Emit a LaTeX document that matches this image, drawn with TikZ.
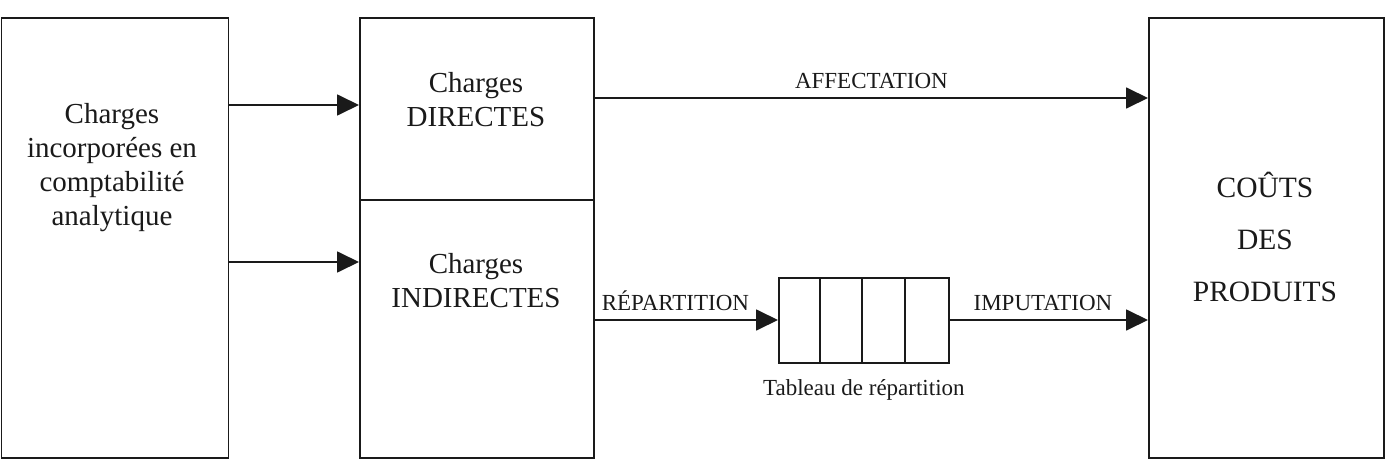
\documentclass[tikz,border=0pt]{standalone}
\usepackage{fontspec}
\setmainfont{Liberation Serif}
\usetikzlibrary{
  arrows.meta,
  positioning
}
\definecolor{flowInk}{HTML}{1A1A1A}
\tikzset{
  every node/.style={text=flowInk},
  bigtext/.style={font=\fontsize{29}{34}\selectfont, align=center},
  labeltext/.style={font=\fontsize{23}{26}\selectfont},
  frame/.style={
    draw=flowInk,
    line width=1.8pt,
    fill=white,
    inner sep=0pt
  },
  flow/.style={
    -{Triangle[length=22pt,width=21pt]},
    line width=1.8pt,
    draw=flowInk
  }
}

\begin{document}
\begin{tikzpicture}[x=1pt,y=-1pt]
  \useasboundingbox (0,0) rectangle (1390,460);

  % boxes
  \node[frame, minimum width=227pt, minimum height=440pt, anchor=north west] (source) at (0.5,17) {};
  \node[frame, minimum width=234pt, minimum height=440pt, anchor=north west] (charges) at (359,17) {};
  \draw[flowInk, line width=1.8pt] (charges.west |- 0,200) -- (charges.east |- 0,200);
  \node[frame, minimum width=235pt, minimum height=440pt, anchor=north west] (costs) at (1148,17) {};
  \node[frame, minimum width=170pt, minimum height=85pt, anchor=north west] (table) at (778,277) {};
  \foreach \x in {820,862,905}{
    \draw[flowInk, line width=1.8pt] (\x,277) -- (\x,362);
  }

  % texts
  \node[bigtext] (sourcetext) at (112,168) {Charges\\incorporées en\\comptabilité\\analytique};
  \node[bigtext] (directtext) at (476,100) {Charges\\DIRECTES};
  \node[bigtext] (indirecttext) at (476,281) {Charges\\INDIRECTES};
  \node[bigtext, font=\fontsize{29.5}{52}\selectfont] (coststext) at (1265,237) {COÛTS\\DES\\PRODUITS};
  \node[labeltext] (tablelabel) at (table.south |- 0,390) {Tableau de répartition};

  % connectors
  \coordinate (srcA) at (source.north east |- 0,105);
  \coordinate (srcB) at (source.north east |- 0,262);
  \draw[flow] (srcA) -- (srcA -| charges.west);
  \draw[flow] (srcB) -- (srcB -| charges.west);

  \coordinate (affA) at (charges.east |- 0,98);
  \draw[flow] (affA) -- node[labeltext, above=5pt] (afflabel) {AFFECTATION} (affA -| costs.west);

  \coordinate (repA) at (charges.east |- 0,320);
  \draw[flow] (repA) -- node[labeltext, above=5pt, pos=0.44] (replabel) {RÉPARTITION} (table.west |- repA);
  \draw[flow] (table.east |- repA) -- node[labeltext, above=5pt, pos=0.47] (implabel) {IMPUTATION} (repA -| costs.west);
\end{tikzpicture}
\end{document}
